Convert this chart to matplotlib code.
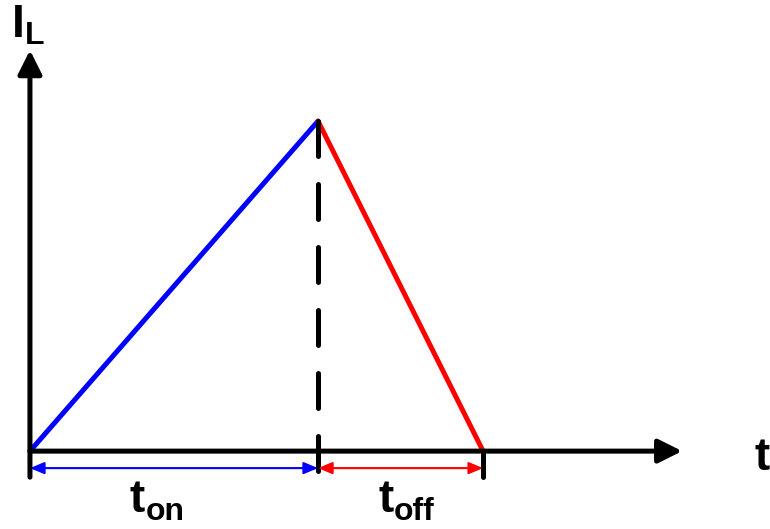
import matplotlib.pyplot as plt

# inductor current waveform: ramps up during t_on, down during t_off
t_on = 1.0
t_off = 0.573
i_peak = 1.0
t_pts = [0, t_on, t_on + t_off]
i_pts = [0, i_peak, 0]

# axis extents (data units)
t_axis_end = 2.264
i_axis_end = 1.215
tick_low = -0.079
dim_y = -0.0515

fig = plt.figure(figsize=(7.7, 5.29), dpi=100)
ax = fig.add_axes([0, 0, 1, 1])
ax.set_xlim(-0.104, 2.569)
ax.set_ylim(-0.236, 1.367)
ax.axis('off')

lw = 3.6

# axes with arrow heads
axis_arrow = dict(arrowstyle='-|>,head_length=0.72,head_width=0.36', mutation_scale=20,
                  lw=lw, color='black', shrinkA=0, shrinkB=0)
ax.annotate('', xy=(t_axis_end, 0), xytext=(0, 0), arrowprops=axis_arrow)
ax.annotate('', xy=(0, i_axis_end), xytext=(0, tick_low), arrowprops=axis_arrow)

# current ramps
ax.plot(t_pts[:2], i_pts[:2], color='blue', lw=lw, solid_capstyle='round')
ax.plot(t_pts[1:], i_pts[1:], color='red', lw=lw, solid_capstyle='round')

# dashed marker at the switching instant and tick at the end
ax.plot([t_on, t_on], [i_peak, tick_low], color='black', lw=lw,
        dashes=(7, 5.6), dash_capstyle='round')
ax.plot([t_pts[2], t_pts[2]], [0, tick_low], color='black', lw=lw, solid_capstyle='round')

# dimension arrows
dim_style = '<|-|>,head_length=0.86,head_width=0.36'
ax.annotate('', xy=(t_on, dim_y), xytext=(0, dim_y),
            arrowprops=dict(arrowstyle=dim_style, mutation_scale=10, lw=1.5,
                            color='blue', shrinkA=0, shrinkB=0))
ax.annotate('', xy=(t_pts[2], dim_y), xytext=(t_on, dim_y),
            arrowprops=dict(arrowstyle=dim_style, mutation_scale=10, lw=1.5,
                            color='red', shrinkA=0, shrinkB=0))

font = dict(family='Liberation Sans', fontweight='bold', color='black',
            ha='left', va='baseline', textcoords='offset pixels')
big = 33
small = 23


def label(main, sub, xy, main_off, sub_off):
    ax.annotate(main, xy=xy, xytext=main_off, fontsize=big, **font)
    if sub:
        ax.annotate(sub, xy=xy, xytext=sub_off, fontsize=small, **font)


label('t', 'on', (t_on / 2, 0), (-44, -61), (-28, -69))
label('t', 'off', (t_on + t_off / 2, 0), (-22.5, -61), (-6.5, -69))
label('t', None, (0, 0), (725, -19), None)
label('I', 'L', (0, i_axis_end), (-18, 13), (-5, 6))

fig.savefig('out.png', dpi=100)
